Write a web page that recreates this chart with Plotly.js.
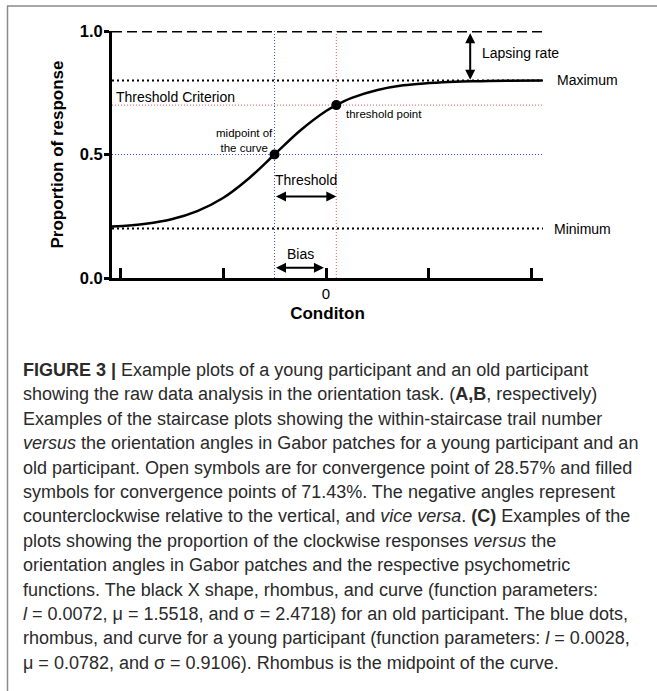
<!DOCTYPE html>
<html>
<head>
<meta charset="utf-8">
<script src="https://cdn.plot.ly/plotly-3.0.1.min.js"></script>
<style>
  html, body { margin: 0; padding: 0; background: #fff; }
  #chart { width: 657px; height: 691px; }
</style>
</head>
<body>
<div id="chart"></div>
<script>
// ---------- data ----------
const xTickVals   = [-2, -1, 0, 1, 2];
const xTickText   = ['', '', '0', '', ''];
const yTickVals   = [0, 0.5, 1];
const yTickText   = ['0.0', '0.5', '1.0'];

const curveX = [-2.08, -1.75, -1.5, -1.25, -1.0, -0.75, -0.5, -0.25, 0.0, 0.1, 0.25, 0.5, 0.75, 1.0, 1.25, 1.5, 1.75, 2.1];
const curveY = [0.208, 0.220, 0.238, 0.271, 0.324, 0.403, 0.500, 0.597, 0.676, 0.700, 0.729, 0.761, 0.780, 0.789, 0.795, 0.797, 0.799, 0.800];

const levelNames  = ['Lapse', 'Maximum', 'Threshold Criterion', 'Midpoint', 'Minimum'];
const levelValues = [1.0, 0.8, 0.7, 0.5, 0.2];

const pointNames = ['midpoint of the curve', 'threshold point'];
const pointX     = [-0.5, 0.1];
const pointY     = [0.5, 0.7];

const biasRefX = 0;          // condition value 0
const lapseArrowX = 1.4;     // where the lapsing-rate arrow is drawn
const thresholdArrowY = 0.33;
const biasArrowY = 0.042;

const captionLines = [
  '<b>FIGURE 3 |</b> Example plots of a young participant and an old participant',
  'showing the raw data analysis in the orientation task. (<b>A,B</b>, respectively)',
  'Examples of the staircase plots showing the within-staircase trail number',
  '<i>versus</i> the orientation angles in Gabor patches for a young participant and an',
  'old participant. Open symbols are for convergence point of 28.57% and filled',
  'symbols for convergence points of 71.43%. The negative angles represent',
  'counterclockwise relative to the vertical, and <i>vice versa</i>. <b>(C)</b> Examples of the',
  'plots showing the proportion of the clockwise responses <i>versus</i> the',
  'orientation angles in Gabor patches and the respective psychometric',
  'functions. The black X shape, rhombus, and curve (function parameters:',
  '<i>l</i> = 0.0072, \u03bc = 1.5518, and \u03c3 = 2.4718) for an old participant. The blue dots,',
  'rhombus, and curve for a young participant (function parameters: <i>l</i> = 0.0028,',
  '\u03bc = 0.0782, and \u03c3 = 0.9106). Rhombus is the midpoint of the curve.'
];

// ---------- layout helpers ----------
const W = 657, H = 691;
const M = { l: 112, r: 114, t: 31, b: 413 };
const PW = W - M.l - M.r, PH = H - M.t - M.b;
const px = v => (v - M.l) / PW;
const py = v => (H - M.b - v) / PH;
const FONT = 'Liberation Sans, Arial, Helvetica, sans-serif';
const xRange = [-2.078, 2.107];

function hline(y, color, width, dash) {
  return { type: 'scatter', mode: 'lines', x: [xRange[0], xRange[1]], y: [y, y],
           line: { color: color, width: width, dash: dash }, hoverinfo: 'skip', showlegend: false };
}
function vline(x, color, width, dash) {
  return { type: 'scatter', mode: 'lines', x: [x, x], y: [0, 1],
           line: { color: color, width: width, dash: dash }, hoverinfo: 'skip', showlegend: false };
}

const traces = [
  vline(pointX[0], '#3a4cff', 1, '1px,2px'),
  vline(pointX[1], '#ff5050', 1, '1px,2px'),
  hline(levelValues[3], '#3a4cff', 1, '1px,2px'),
  hline(levelValues[2], '#ff5050', 1, '1px,2px'),
  hline(levelValues[1], '#000', 2, '2px,3px'),
  hline(levelValues[4], '#000', 2, '2px,3px'),
  hline(levelValues[0], '#000', 3, '10px,5px'),
  { type: 'scatter', mode: 'lines', name: 'psychometric curve', x: curveX, y: curveY,
    line: { color: '#000', width: 2.5, shape: 'spline' }, showlegend: false },
  { type: 'scatter', mode: 'markers', x: pointX, y: pointY, text: pointNames,
    marker: { color: '#000', size: 10 }, showlegend: false }
];

const txt = (s, size, extra) => Object.assign({
  text: s, showarrow: false, font: { family: FONT, size: size, color: '#000' }, borderpad: 0
}, extra);

const annotations = [
  // plot labels
  txt('Lapsing rate', 14, { xref: 'paper', yref: 'paper', x: px(481), y: py(53), xanchor: 'left', yanchor: 'middle' }),
  txt('Maximum', 14, { xref: 'paper', yref: 'y', x: px(556), y: levelValues[1], xanchor: 'left', yanchor: 'middle' }),
  txt('Minimum', 14, { xref: 'paper', yref: 'y', x: px(553), y: levelValues[4], xanchor: 'left', yanchor: 'middle' }),
  txt('Threshold Criterion', 14, { xref: 'paper', yref: 'paper', x: px(115), y: py(97), xanchor: 'left', yanchor: 'middle' }),
  txt('midpoint of<br>the curve', 11.5, { xref: 'paper', yref: 'paper', x: px(244), y: py(140), xanchor: 'center', yanchor: 'middle', align: 'center' }),
  txt('threshold point', 11.5, { xref: 'paper', yref: 'paper', x: px(345), y: py(114), xanchor: 'left', yanchor: 'middle' }),
  txt('Threshold', 14, { xref: 'paper', yref: 'paper', x: px(274), y: py(180), xanchor: 'left', yanchor: 'middle' }),
  txt('Bias', 14, { xref: 'paper', yref: 'paper', x: px(300), y: py(254), xanchor: 'center', yanchor: 'middle' }),
  // arrows
  { xref: 'x', yref: 'y', axref: 'x', ayref: 'y', x: lapseArrowX, y: levelValues[1] + 0.003, ax: lapseArrowX, ay: levelValues[0] - 0.003,
    text: '', showarrow: true, arrowhead: 2, startarrowhead: 2, arrowside: 'end+start', arrowsize: 1, startarrowsize: 1, arrowwidth: 2, arrowcolor: '#000', standoff: 0, startstandoff: 0 },
  { xref: 'x', yref: 'y', axref: 'x', ayref: 'y', x: pointX[1], y: thresholdArrowY, ax: pointX[0], ay: thresholdArrowY,
    text: '', showarrow: true, arrowhead: 2, startarrowhead: 2, arrowside: 'end+start', arrowsize: 1, startarrowsize: 1, arrowwidth: 2, arrowcolor: '#000', standoff: 0, startstandoff: 0 },
  { xref: 'x', yref: 'y', axref: 'x', ayref: 'y', x: biasRefX - 0.02, y: biasArrowY, ax: pointX[0], ay: biasArrowY,
    text: '', showarrow: true, arrowhead: 2, startarrowhead: 2, arrowside: 'end+start', arrowsize: 1, startarrowsize: 1, arrowwidth: 2, arrowcolor: '#000', standoff: 0, startstandoff: 0 }
];

captionLines.forEach((line, i) => {
  annotations.push({
    text: line, showarrow: false, xref: 'paper', yref: 'paper',
    x: px(22), y: py(370 + i * 24.4), xanchor: 'left', yanchor: 'middle', align: 'left', borderpad: 0,
    font: { family: FONT, size: 18, color: '#2a2a2a' }
  });
});

const shapes = [
  { type: 'line', xref: 'paper', yref: 'paper', x0: px(7.5), x1: px(7.5), y0: py(6), y1: py(H + 2), line: { color: '#8a8a8a', width: 1.5 } },
  { type: 'line', xref: 'paper', yref: 'paper', x0: px(7), x1: px(W + 2), y0: py(6), y1: py(6), line: { color: '#8a8a8a', width: 1.5 } }
];

const layout = {
  width: W, height: H, margin: M,
  paper_bgcolor: '#fff', plot_bgcolor: '#fff',
  showlegend: false,
  font: { family: FONT, color: '#000' },
  xaxis: {
    range: xRange, tickvals: xTickVals, ticktext: xTickText,
    ticks: 'inside', ticklen: 10, tickwidth: 3, tickcolor: '#000',
    showline: true, linewidth: 3, linecolor: '#000', showgrid: false, zeroline: false,
    tickfont: { family: FONT, size: 15, color: '#000' },
    title: { text: 'Conditon', font: { family: FONT, size: 17, color: '#000', weight: 'bold' }, standoff: 7 }
  },
  yaxis: {
    range: [0, 1], tickvals: yTickVals, ticktext: yTickText,
    ticks: 'outside', ticklen: 5, tickwidth: 3, tickcolor: '#000',
    showline: true, linewidth: 3, linecolor: '#000', showgrid: false, zeroline: false,
    tickfont: { family: FONT, size: 16.5, color: '#000', weight: 'bold' },
    ticklabelstandoff: -2,
    title: { text: 'Proportion of response', font: { family: FONT, size: 17, color: '#000', weight: 'bold' }, standoff: 12 }
  },
  annotations: annotations,
  shapes: shapes
};

Plotly.newPlot('chart', traces, layout, { displayModeBar: false, staticPlot: true });
</script>
</body>
</html>
